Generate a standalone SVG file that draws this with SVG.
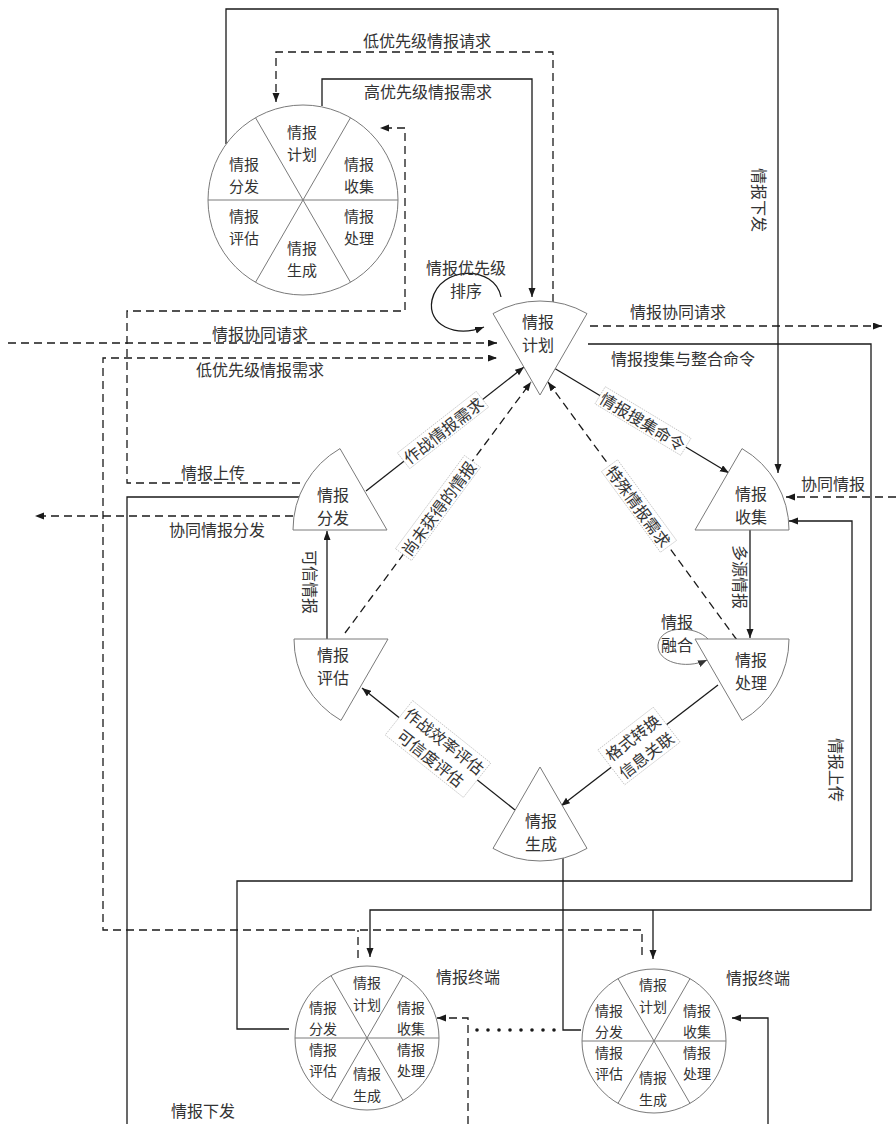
<svg xmlns="http://www.w3.org/2000/svg" width="896" height="1124" viewBox="0 0 896 1124">
<style>
.n{fill:#fff;stroke:#7a7a7a;stroke-width:1}
.ln{stroke:#7a7a7a;stroke-width:1;fill:none}
.c{fill:none;stroke:#1a1a1a;stroke-width:1.3}
.d{stroke-dasharray:8 5}
.t{font-family:"Noto Sans CJK SC","Liberation Sans",sans-serif;font-size:16px;fill:#333;text-anchor:middle;dominant-baseline:central}
.s{font-size:15px}
.s2{font-size:14px}
.lb{fill:#fff;stroke:#bdbdbd;stroke-width:0.8;stroke-dasharray:1.5 1}
</style>
<defs>
<marker id="a" markerUnits="userSpaceOnUse" markerWidth="10" markerHeight="8" refX="9" refY="3.5" orient="auto">
<path d="M0 0 L9 3.5 L0 7 Z" fill="#1a1a1a"/>
</marker>
<marker id="ag" markerUnits="userSpaceOnUse" markerWidth="10" markerHeight="8" refX="9" refY="3.5" orient="auto">
<path d="M0 0 L9 3.5 L0 7 Z" fill="#333"/>
</marker>
</defs>
<rect width="896" height="1124" fill="#fff"/>

<g id="connectors">
<path class="c" d="M322 106 V79 H532 V297" marker-end="url(#a)"/>
<path class="c d" d="M553 302 V52 H276 V102" marker-end="url(#a)"/>
<path class="c d" d="M300 483 H127 V311 H405 V128 H380" marker-end="url(#a)"/>
<path class="c" d="M226 144 V9 H778 V473" marker-end="url(#a)"/>
<path class="c d" d="M8 343 H497" marker-end="url(#a)"/>
<path class="c d" d="M642 955 V930 H103 V358 H497" marker-end="url(#a)"/>
<path class="c d" d="M358 958 V930"/>
<path class="c d" d="M590 326 H882" marker-end="url(#a)"/>
<path class="c" d="M588 344 H871 V910 H370 V957" marker-end="url(#a)"/>
<path class="c" d="M653 910 V959" marker-end="url(#a)"/>
<path class="c d" d="M896 497 H786" marker-end="url(#a)"/>
<path class="c" d="M289 1029 H237 V881 H852 V521 H789" marker-end="url(#a)"/>
<path class="c" d="M581 1030 H563 V858"/>
<path class="c" d="M299 497 H127 V1124"/>
<path class="c d" d="M293 516 H35" marker-end="url(#a)"/>
<path class="c d" d="M468 1124 V1018 H437" marker-end="url(#a)"/>
<path class="c" d="M768 1124 V1018 H732" marker-end="url(#a)"/>
<g fill="#1a1a1a">
<circle cx="477" cy="1030" r="1.8"/><circle cx="488" cy="1030" r="1.8"/><circle cx="499" cy="1030" r="1.8"/><circle cx="510" cy="1030" r="1.8"/><circle cx="521" cy="1030" r="1.8"/><circle cx="532" cy="1030" r="1.8"/><circle cx="543" cy="1030" r="1.8"/><circle cx="554" cy="1030" r="1.8"/>
</g>
<path class="c" d="M366 491 L524 367" marker-end="url(#a)"/>
<path class="c d" d="M345 633 L531 382" marker-end="url(#a)"/>
<path class="c d" d="M737 640 L548 382" marker-end="url(#a)"/>
<path class="c" d="M554 368 L729 473" marker-end="url(#a)"/>
<path class="c" d="M750 530 V638" marker-end="url(#a)"/>
<path class="c" d="M327 639 V531" marker-end="url(#a)"/>
<path class="c" d="M718 685 L561 806" marker-end="url(#a)"/>
<path class="c" d="M515 810 L362 688" marker-end="url(#a)"/>
<path class="c" d="M501 297 C495 265 440 265 432 300 C427 325 455 338 484 327" marker-end="url(#a)"/>
<path class="ln" d="M708 639 C695 625 660 625 658 645 C657 662 685 670 707 660" marker-end="url(#ag)"/>

<g transform="translate(443,430) rotate(-38)"><rect class="lb" x="-50" y="-10" width="100" height="20"/><text class="t">作战情报需求</text></g>
<g transform="translate(438,508) rotate(-53.5)"><rect class="lb" x="-58" y="-10" width="116" height="20"/><text class="t">尚未获得的情报</text></g>
<g transform="translate(639,506) rotate(53.8)"><rect class="lb" x="-50" y="-10" width="100" height="20"/><text class="t">特殊情报需求</text></g>
<g transform="translate(643,421) rotate(31)"><rect class="lb" x="-50" y="-10" width="100" height="20"/><text class="t">情报搜集命令</text></g>
<g transform="translate(639,746) rotate(-37.6)"><rect class="lb" x="-35" y="-22" width="70" height="44"/><text class="t" y="-11">格式转换</text><text class="t" y="11">信息关联</text></g>
<g transform="translate(438,749) rotate(38.6)"><rect class="lb" x="-50" y="-22" width="100" height="44"/><text class="t" y="-11">作战效率评估</text><text class="t" y="11">可信度评估</text></g>
<text class="t" transform="translate(741,577) rotate(90)">多源情报</text>
<text class="t" transform="translate(311,582) rotate(90)">可信情报</text>
<text class="t" transform="translate(760,200) rotate(90)">情报下发</text>
<text class="t" transform="translate(837,770) rotate(90)">情报上传</text>

<text class="t" x="427" y="40">低优先级情报请求</text>
<text class="t" x="428" y="91">高优先级情报需求</text>
<text class="t" x="466" y="267">情报优先级</text>
<text class="t" x="466" y="290">排序</text>
<text class="t" x="678" y="311">情报协同请求</text>
<text class="t" x="683" y="358">情报搜集与整合命令</text>
<text class="t" x="260" y="333">情报协同请求</text>
<text class="t" x="260" y="369">低优先级情报需求</text>
<text class="t" x="213" y="472">情报上传</text>
<text class="t" x="217" y="529">协同情报分发</text>
<text class="t" x="833" y="483">协同情报</text>
<text class="t" x="203" y="1110">情报下发</text>
<text class="t" x="677" y="621">情报</text>
<text class="t" x="677" y="644">融合</text>
</g>

<g id="cycle-top">
<circle class="n" cx="303" cy="200" r="95"/>
<path class="ln" d="M208 200 H398 M255.5 117.7 L350.5 282.3 M350.5 117.7 L255.5 282.3"/>
<g class="t s">
<text x="302" y="131">情报</text><text x="302" y="153">计划</text>
<text x="244" y="163">情报</text><text x="244" y="185">分发</text>
<text x="359" y="163">情报</text><text x="359" y="185">收集</text>
<text x="244" y="215">情报</text><text x="244" y="237">评估</text>
<text x="359" y="215">情报</text><text x="359" y="237">处理</text>
<text x="302" y="247">情报</text><text x="302" y="269">生成</text>
</g>
</g>

<g id="plan">
<path class="n" d="M540 395 L493 313.6 A94 94 0 0 1 587 313.6 Z"/>
<text class="t" x="538" y="321">情报</text><text class="t" x="538" y="344">计划</text>
</g>
<g id="collect">
<path class="n" d="M695 530 L789 530 A94 94 0 0 0 742 448.6 Z"/>
<text class="t" x="751" y="493">情报</text><text class="t" x="751" y="516">收集</text>
</g>
<g id="process">
<path class="n" d="M695 639 L789 639 A94 94 0 0 1 742 720.4 Z"/>
<text class="t" x="751" y="659">情报</text><text class="t" x="751" y="682">处理</text>
</g>
<g id="distribute">
<path class="n" d="M387 530 L293 530 A94 94 0 0 1 340 448.6 Z"/>
<text class="t" x="333" y="494">情报</text><text class="t" x="333" y="517">分发</text>
</g>
<g id="evaluate">
<path class="n" d="M388 639 L294 639 A94 94 0 0 0 341 720.4 Z"/>
<text class="t" x="333" y="654">情报</text><text class="t" x="333" y="677">评估</text>
</g>
<g id="generate">
<path class="n" d="M540 767 L587 848.4 A94 94 0 0 1 493 848.4 Z"/>
<text class="t" x="541" y="820">情报</text><text class="t" x="541" y="843">生成</text>
</g>

<g id="terminal-1">
<circle class="n" cx="367" cy="1038" r="72"/>
<path class="ln" d="M295 1038 H439 M331 975.6 L403 1100.4 M403 975.6 L331 1100.4"/>
<g class="t s2">
<text x="367" y="982">情报</text><text x="367" y="1004">计划</text>
<text x="323" y="1007">情报</text><text x="323" y="1028">分发</text>
<text x="411" y="1007">情报</text><text x="411" y="1028">收集</text>
<text x="323" y="1049">情报</text><text x="323" y="1070">评估</text>
<text x="411" y="1049">情报</text><text x="411" y="1070">处理</text>
<text x="367" y="1073">情报</text><text x="367" y="1095">生成</text>
</g>
<text class="t" x="468" y="976">情报终端</text>
</g>

<g id="terminal-2">
<circle class="n" cx="654" cy="1041" r="72"/>
<path class="ln" d="M582 1041 H726 M618 978.6 L690 1103.4 M690 978.6 L618 1103.4"/>
<g class="t s2">
<text x="653" y="984">情报</text><text x="653" y="1006">计划</text>
<text x="609" y="1010">情报</text><text x="609" y="1031">分发</text>
<text x="697" y="1010">情报</text><text x="697" y="1031">收集</text>
<text x="609" y="1052">情报</text><text x="609" y="1073">评估</text>
<text x="697" y="1052">情报</text><text x="697" y="1073">处理</text>
<text x="653" y="1077">情报</text><text x="653" y="1099">生成</text>
</g>
<text class="t" x="758" y="977">情报终端</text>
</g>
</svg>
